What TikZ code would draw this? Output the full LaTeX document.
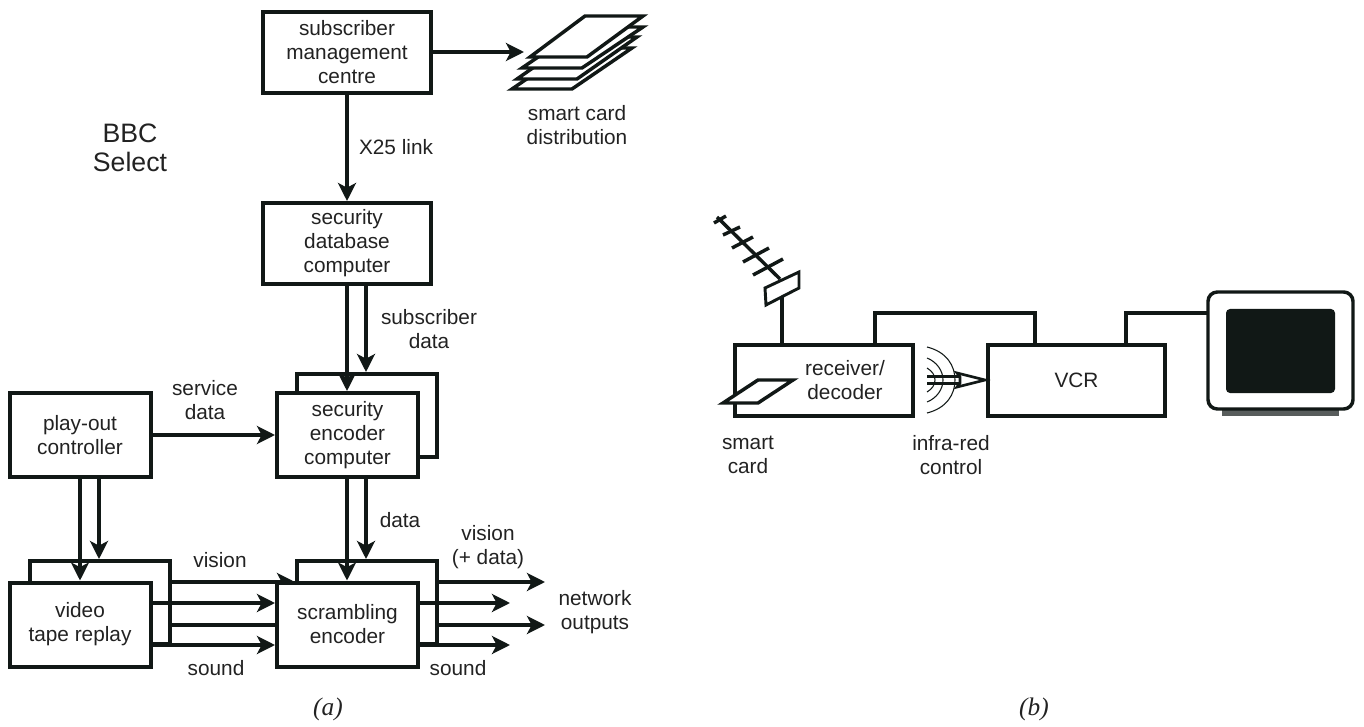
\documentclass[tikz,border=0pt]{standalone}
\usepackage{fontspec}
\setmainfont{Liberation Sans}
\newfontfamily\capfont{Liberation Serif}
\usetikzlibrary{arrows.meta}
\definecolor{ink}{HTML}{111816}
\definecolor{txt}{HTML}{222222}
\tikzset{
  box/.style={draw=ink,line width=3pt,fill=white,outer sep=0pt,inner sep=0pt,miter limit=10,align=center,text=txt,font=\fontsize{15.6}{18}\selectfont},
  backbox/.style={box,minimum width=105pt,minimum height=62.25pt},
  frontbox/.style={box,minimum width=105.75pt,minimum height=63pt},
  lab/.style={align=center,text=txt,inner sep=0pt,font=\fontsize{15.6}{18}\selectfont},
  wire/.style={draw=ink,line width=3pt},
  arr/.style={wire,-{Stealth[length=13.5pt,width=13.5pt,inset=3.5pt]},shorten >=1.5pt},
  card/.style={draw=ink,line width=2.6pt,fill=white,miter limit=10},
  thin wire/.style={draw=ink,line width=0.8pt},
  caplab/.style={inner sep=0pt,text=txt,font=\capfont\itshape\fontsize{19}{22}\selectfont},
}
\begin{document}
\begin{tikzpicture}[x=0.75pt,y=-0.75pt]
\useasboundingbox (0,0) rectangle (1364,727);
\coordinate (cL) at (347,0);
\coordinate (cR) at (366,0);
\coordinate (pL) at (80,0);
\coordinate (pR) at (99,0);
\coordinate (rA) at (0,582);
\coordinate (rB) at (0,603);
\coordinate (rC) at (0,625);
\coordinate (rD) at (0,645);
\coordinate (o1) at (545,582);
\coordinate (o2) at (510,603);
\coordinate (o3) at (545,625);
\coordinate (o4) at (510,645);
\coordinate (cardtip) at (526,52);
\node[box,minimum width=126pt,minimum height=60.75pt] (smc) at (347,52.5) {subscriber\\management\\centre};
\node[box,minimum width=126pt,minimum height=60.75pt] (sdb) at (347,243.5) {security\\database\\computer};
\node[box,minimum width=105pt,minimum height=62.25pt] (encb) at (367,415.5) {};
\node[backbox] (scrb) at (367,602.5) {};
\node[backbox] (vtrb) at (99.5,602.5) {};
\draw[arr] (vtrb.east |- rA) -- (scrb.west |- rA);
\draw[wire] (vtrb.east |- rC) -- (scrb.west |- rC);
\node[frontbox] (enc) at (347.5,435) {security\\encoder\\computer};
\node[frontbox] (poc) at (80,435) {play-out\\controller};
\node[frontbox] (vtr) at (80,624.5) {video\\tape replay};
\node[frontbox] (scr) at (347.5,624.5) {scrambling\\encoder};
\draw[arr] (cL |- smc.south) -- (cL |- sdb.north);
\draw[arr] (smc.east |- cardtip) -- (cardtip);
\draw[arr] (cL |- sdb.south) -- (cL |- enc.north);
\draw[arr] (cR |- sdb.south) -- (cR |- encb.north);
\draw[arr] (poc.east) -- (enc.west);
\draw[arr] (pL |- poc.south) -- (pL |- vtr.north);
\draw[arr] (pR |- poc.south) -- (pR |- vtrb.north);
\draw[arr] (cL |- enc.south) -- (cL |- scr.north);
\draw[arr] (cR |- enc.south) -- (cR |- scrb.north);
\draw[arr] (vtr.east |- rB) -- (scr.west |- rB);
\draw[arr] (vtr.east |- rD) -- (scr.west |- rD);
\draw[arr,shorten >=0pt] (scrb.east |- rA) -- (o1);
\draw[arr,shorten >=0pt] (scr.east |- rB) -- (o2);
\draw[arr,shorten >=0pt] (scrb.east |- rC) -- (o3);
\draw[arr,shorten >=0pt] (scr.east |- rD) -- (o4);
\draw[card] (512,89) -- (572,89) -- (632,48) -- (572,48) -- cycle;
\draw[card] (517,79) -- (577,79) -- (637,37) -- (577,37) -- cycle;
\draw[card] (522,68) -- (582,68) -- (643,27) -- (582,27) -- cycle;
\draw[card] (530,57) -- (587,57) -- (643,16) -- (585,16) -- cycle;
\node[lab] (l1) at (396,147) {X25 link};
\node[lab] (l2) at (577,125.5) {smart card\\distribution};
\node[lab,font=\fontsize{20}{21.75}\selectfont] (l3) at (130,148) {BBC\\Select};
\node[lab] (l4) at (429,329.5) {subscriber\\data};
\node[lab] (l5) at (205,400.5) {service\\data};
\node[lab] (l6) at (400,520) {data};
\node[lab] (l7) at (220,560) {vision};
\node[lab] (l8) at (216,668) {sound};
\node[lab] (l9) at (488,547) {vision\\(+ data)};
\node[lab] (l10) at (458,668) {sound};
\node[lab] (l11) at (595,612.5) {network\\outputs};
\node[caplab] (capa) at (328,709) {(a)};
\node[caplab] (capb) at (1034,709) {(b)};
\node[frontbox,minimum width=133.5pt,minimum height=53.25pt] (rx) at (824,380.5) {};
\node[frontbox,minimum width=132.75pt,minimum height=53.25pt] (vcr) at (1076.5,380.5) {VCR};
\node[lab] (rxl) at (845,380) {receiver/\\decoder};
\coordinate (aerialfoot) at (782,297);
\coordinate (linkA) at (875,313);
\coordinate (linkB) at (1035,313);
\coordinate (linkC) at (1126,313);
\draw[wire] (aerialfoot) -- (aerialfoot |- rx.north);
\draw[wire] (linkA |- rx.north) -- (linkA) -- (linkB) -- (linkB |- vcr.north);
\draw[wire,line width=2.6pt] (717,217) -- (780,279);
\foreach \a/\b/\c/\d in {714/223/726/216, 723/235/740/227, 732/248/753/237, 743/262/769/248, 753/275/783/259}
  \draw[wire,line width=2.6pt] (\a,\b) -- (\c,\d);
\draw[card,line width=2.2pt] (765,288) -- (799,272) -- (799,288) -- (766,305) -- cycle;
\draw[card] (723,403) -- (758,403) -- (793,380) -- (758,380) -- cycle;
\node[lab] (l12) at (748,455) {smart\\card};
\node[lab] (l13) at (951,455) {infra-red\\control};
\draw[thin wire] (927,347) .. controls (947,352) and (955,366) .. (955,380) .. controls (955,394) and (947,408) .. (927,413);
\draw[thin wire] (927,358) .. controls (937,362) and (943,371) .. (943,380) .. controls (943,389) and (937,398) .. (927,402);
\draw[thin wire] (927,368) .. controls (932,371) and (935,375) .. (935,380) .. controls (935,385) and (932,389) .. (927,392);
\coordinate (irtip) at (985,380);
\draw[draw=ink,line width=1.9pt] (927,376.5) -- (959,376.5) (927,383.5) -- (959,383.5);
\draw[draw=ink,line width=2pt,fill=white,miter limit=6] (960,377) -- (957,373) -- (irtip) -- (957,387) -- (960,383) -- cycle;
\node[draw=none,fill=ink!70,minimum width=87.75pt,minimum height=6pt,inner sep=0pt,outer sep=0pt] (stand) at (1280.5,412) {};
\node[draw=ink,line width=2.6pt,fill=white,rounded corners=7pt,minimum width=108.75pt,minimum height=87.75pt,inner sep=0pt,outer sep=0pt] (tv) at (1280.5,350.5) {};
\node[draw=none,fill=ink,rounded corners=3pt,minimum width=81.75pt,minimum height=63pt,inner sep=0pt,outer sep=0pt] (screen) at (1280.5,351) {};
\draw[wire] (linkC |- vcr.north) -- (linkC) -- (linkC -| tv.west);
\end{tikzpicture}
\end{document}
